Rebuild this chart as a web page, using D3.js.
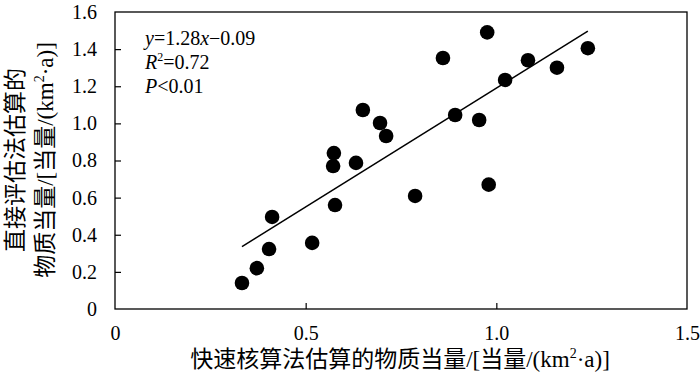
<!DOCTYPE html>
<html>
<head>
<meta charset="utf-8">
<script src="https://cdn.jsdelivr.net/npm/d3@7"></script>
<style>
  body { margin: 0; background: #fff; }
  text { font-family: "Liberation Serif", "Noto Sans CJK SC", serif; fill: #000; }
</style>
</head>
<body>
<div id="chart"></div>
<script>
// 快速核算法 (x) 与 直接评估法 (y)
const quickValues = [0.333, 0.372, 0.404, 0.412, 0.517, 0.572, 0.574, 0.577, 0.632, 0.650, 0.695, 0.711,
                     0.787, 0.860, 0.892, 0.955, 0.976, 0.980, 1.023, 1.083, 1.159, 1.240];
const directValues = [0.14, 0.22, 0.323, 0.496, 0.356, 0.77, 0.84, 0.56, 0.787, 1.072, 1.002, 0.932,
                      0.609, 1.352, 1.045, 1.018, 1.49, 0.67, 1.234, 1.34, 1.30, 1.405];
const xTicks = [0, 0.5, 1.0, 1.5];
const yTicks = [0, 0.2, 0.4, 0.6, 0.8, 1.0, 1.2, 1.4, 1.6];
const slope = 1.28, intercept = -0.09;

const width = 700, height = 376;
const margin = {left: 115, right: 13, top: 12, bottom: 67};

const svg = d3.select("#chart").append("svg")
    .attr("width", width)
    .attr("height", height);

const x = d3.scaleLinear().domain([0, 1.5]).range([margin.left, width - margin.right]);
const y = d3.scaleLinear().domain([0, 1.6]).range([height - margin.bottom, margin.top]);

// 边框
svg.append("rect")
    .attr("x", x(0)).attr("y", y(1.6))
    .attr("width", x(1.5) - x(0)).attr("height", y(0) - y(1.6))
    .attr("fill", "none").attr("stroke", "#000").attr("stroke-width", 1.3);

// 坐标轴 (刻度朝内)
const xAxis = svg.append("g")
    .attr("transform", `translate(0,${y(0)})`)
    .call(d3.axisBottom(x).tickValues(xTicks).tickSizeInner(-6).tickSizeOuter(0).tickPadding(17)
        .tickFormat(d => d === 0 ? "0" : d3.format(".1f")(d)));
const yAxis = svg.append("g")
    .attr("transform", `translate(${x(0)},0)`)
    .call(d3.axisLeft(y).tickValues(yTicks).tickSizeInner(-6).tickSizeOuter(0).tickPadding(18)
        .tickFormat(d => d === 0 ? "0" : d3.format(".1f")(d)));

[xAxis, yAxis].forEach(g => {
    g.select(".domain").remove();
    g.selectAll(".tick line").attr("stroke", "#000").attr("stroke-width", 1.2);
    g.selectAll(".tick text").attr("font-size", 20).attr("fill", "#000")
        .style("font-family", '"Liberation Serif", serif');
});
// 端点刻度去掉
xAxis.selectAll(".tick line").filter(d => d === 0 || d === 1.5).remove();
yAxis.selectAll(".tick line").filter(d => d === 0 || d === 1.6).remove();

// 回归线
const xExt = d3.extent(quickValues);
svg.append("line")
    .attr("x1", x(xExt[0])).attr("y1", y(slope * xExt[0] + intercept))
    .attr("x2", x(xExt[1])).attr("y2", y(slope * xExt[1] + intercept))
    .attr("stroke", "#000").attr("stroke-width", 1.5);

// 散点
svg.selectAll("circle.pt")
    .data(quickValues.map((v, i) => [v, directValues[i]]))
    .enter()
    .append("circle")
    .attr("class", "pt")
    .attr("cx", d => x(d[0]))
    .attr("cy", d => y(d[1]))
    .attr("r", 7.3)
    .attr("fill", "#000");

// 方程
const eq = svg.append("g").attr("font-size", 20);
const t1 = eq.append("text").attr("x", 145).attr("y", 45);
t1.append("tspan").attr("font-style", "italic").text("y");
t1.append("tspan").text("=1.28");
t1.append("tspan").attr("font-style", "italic").text("x");
t1.append("tspan").text("\u22120.09");
const t2 = eq.append("text").attr("x", 145).attr("y", 69);
t2.append("tspan").attr("font-style", "italic").text("R");
t2.append("tspan").attr("font-size", 12).attr("dy", -8).text("2");
t2.append("tspan").attr("dy", 8).text("=0.72");
const t3 = eq.append("text").attr("x", 145).attr("y", 93);
t3.append("tspan").attr("font-style", "italic").text("P");
t3.append("tspan").text("<0.01");

// 坐标轴标题
const xt = svg.append("text")
    .attr("x", 400).attr("y", 367)
    .attr("text-anchor", "middle").attr("font-size", 23);
xt.append("tspan").text("快速核算法估算的物质当量/[当量/(km");
xt.append("tspan").attr("font-size", 14).attr("dy", -9).text("2");
xt.append("tspan").attr("dy", 9).text("·a)]");

const yt = svg.append("g").attr("transform", "translate(0,160) rotate(-90)");
yt.append("text").attr("x", 0).attr("y", 23)
    .attr("text-anchor", "middle").attr("font-size", 23)
    .text("直接评估法估算的");
const yt2 = yt.append("text").attr("x", 0).attr("y", 53)
    .attr("text-anchor", "middle").attr("font-size", 23);
yt2.append("tspan").text("物质当量/[当量/(km");
yt2.append("tspan").attr("font-size", 14).attr("dy", -9).text("2");
yt2.append("tspan").attr("dy", 9).text("·a)]");
</script>
</body>
</html>
